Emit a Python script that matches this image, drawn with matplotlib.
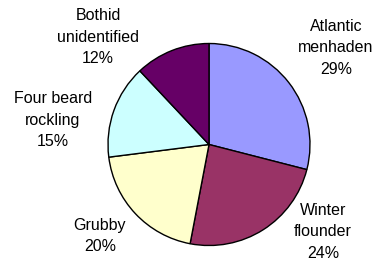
import matplotlib
matplotlib.use("Agg")
import matplotlib.pyplot as plt

categories = ["Atlantic\nmenhaden", "Winter\nflounder", "Grubby", "Four beard\nrockling", "Bothid\nunidentified"]
values = [29, 24, 20, 15, 12]
colors = ["#9999FF", "#993366", "#FFFFCC", "#CCFFFF", "#660066"]

W, H = 380, 265
fig = plt.figure(figsize=(W / 100, H / 100), dpi=100)
ax = fig.add_axes([0, 0, 1, 1])
ax.set_xlim(0, W)
ax.set_ylim(0, H)
ax.set_aspect("equal")
ax.axis("off")

cx, cy, r = 209, H - 144.5, 101
ax.pie(values, colors=colors, startangle=90, counterclock=False,
       center=(cx, cy), radius=r, frame=True,
       wedgeprops=dict(edgecolor="black", linewidth=1.0))
ax.set_xlim(0, W)
ax.set_ylim(0, H)
ax.axis("off")

label_pos = [(336, 48), (323, 232), (100, 236), (53, 120), (98, 37)]
total = sum(values)
for name, v, (x, y) in zip(categories, values, label_pos):
    ax.text(x, H - y, f"{name}\n{round(100 * v / total)}%", ha="center", va="center",
            fontsize=11.5, family="Liberation Sans", linespacing=1.55)

fig.savefig("out.png", dpi=100)
